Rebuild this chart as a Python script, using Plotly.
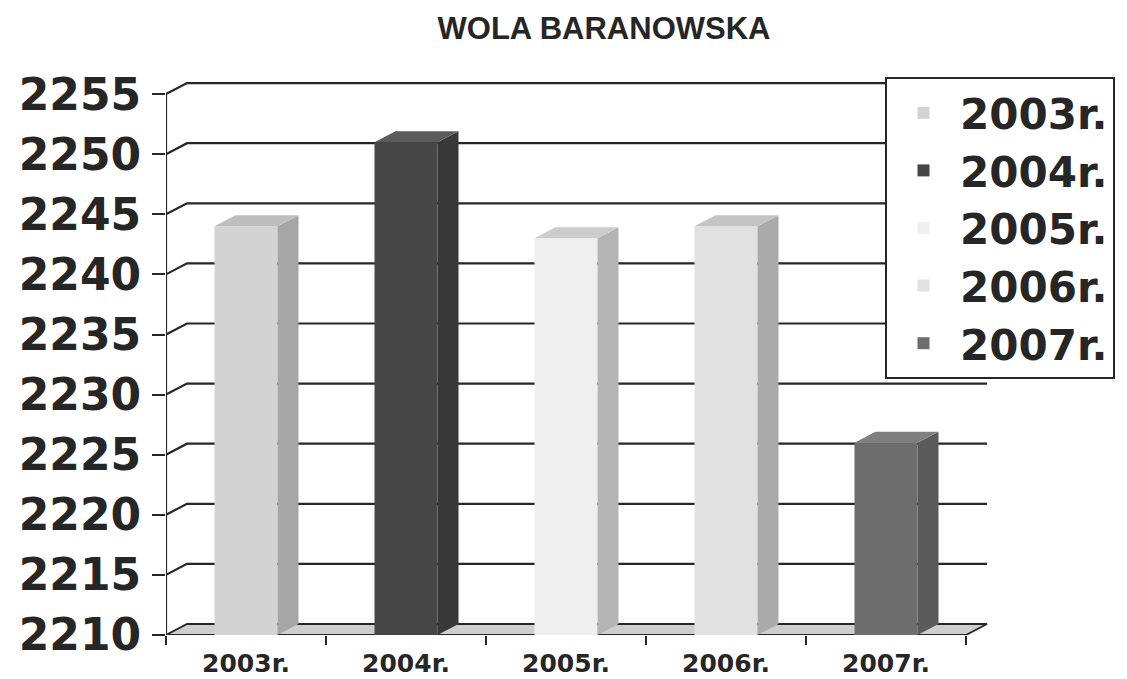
import plotly.graph_objects as go

# ---------------- data ----------------
title_text = "WOLA BARANOWSKA"
years = ["2003r.", "2004r.", "2005r.", "2006r.", "2007r."]
values = [2244, 2251, 2243, 2244, 2226]
y_ticks = [2210, 2215, 2220, 2225, 2230, 2235, 2240, 2245, 2250, 2255]

front_colors = ["#d3d3d3", "#474747", "#efefef", "#e1e1e1", "#6d6d6d"]
side_colors = ["#a6a6a6", "#383838", "#b4b4b4", "#aaaaaa", "#5a5a5a"]
top_colors = ["#bebebe", "#5b5b5b", "#cccccc", "#c4c4c4", "#7f7f7f"]

# ---------------- geometry (pixel layout -> axis units) ----------------
W, H = 1127, 679
PX_PER_X = 160.0           # pixels per category
PX_PER_Y = 12.02           # pixels per value unit
AX_LEFT_PX = 166           # front value axis position
Y_BOTTOM_PX = 635          # value 2210 on the front plane
Y_TOP_PX = 79
X_MIN, X_MAX = -0.5, 4.8
Y0 = y_ticks[0]
y_max = Y0 + (Y_BOTTOM_PX - Y_TOP_PX) / PX_PER_Y
dx = 21 / PX_PER_X         # depth offset, x
dy = 11 / PX_PER_Y         # depth offset, y
bar_w = 63 / PX_PER_X
x_first, x_last = -0.5, len(years) - 0.5

x_dom = [AX_LEFT_PX / W, min(1.0, (AX_LEFT_PX + (X_MAX - X_MIN) * PX_PER_X) / W)]
y_dom = [(H - Y_BOTTOM_PX) / H, (H - Y_TOP_PX) / H]

ink = "#262626"
fig = go.Figure()

# front faces as real bars
for i, (name, v) in enumerate(zip(years, values)):
    fig.add_trace(go.Bar(
        x=[i], y=[v - Y0], base=Y0, width=[bar_w], name=name,
        marker=dict(color=front_colors[i], line=dict(width=0)),
        showlegend=True, hoverinfo="skip",
    ))

# side and top faces for the 3-D look (computed from the same values)
for i, v in enumerate(values):
    xr = i + bar_w / 2
    xl = i - bar_w / 2
    fig.add_trace(go.Scatter(
        x=[xr, xr + dx, xr + dx, xr, xr],
        y=[Y0, Y0 + dy, v + dy, v, Y0],
        fill="toself", fillcolor=side_colors[i], mode="lines",
        line=dict(width=0), showlegend=False, hoverinfo="skip",
    ))
    fig.add_trace(go.Scatter(
        x=[xl, xr, xr + dx, xl + dx, xl],
        y=[v, v, v + dy, v + dy, v],
        fill="toself", fillcolor=top_colors[i], mode="lines",
        line=dict(width=0), showlegend=False, hoverinfo="skip",
    ))

shapes = []
# floor
shapes.append(dict(
    type="path", xref="x", yref="y", layer="below",
    path=f"M {x_first},{Y0} L {x_last},{Y0} L {x_last + dx},{Y0 + dy} L {x_first + dx},{Y0 + dy} Z",
    fillcolor="#cecece", line=dict(color=ink, width=1.8),
))
# back-wall gridlines with the diagonal link to the front axis
for v in y_ticks[1:]:
    shapes.append(dict(
        type="path", xref="x", yref="y", layer="below",
        path=f"M {x_first},{v} L {x_first + dx},{v + dy} L {x_last + dx},{v + dy}",
        line=dict(color=ink, width=2.2),
    ))
# front value axis line
shapes.append(dict(
    type="line", xref="x", yref="y", layer="below",
    x0=x_first, x1=x_first, y0=Y0, y1=y_ticks[-1],
    line=dict(color=ink, width=2.2),
))

fig.update_layout(
    width=W, height=H, autosize=False,
    margin=dict(l=0, r=0, t=0, b=0, autoexpand=False),
    paper_bgcolor="white", plot_bgcolor="rgba(0,0,0,0)",
    barmode="overlay", hovermode=False,
    shapes=shapes,
    title=dict(
        text=title_text, x=604 / W, y=1 - 28 / H,
        xanchor="center", yanchor="middle",
        font=dict(family="Liberation Sans", size=31, color=ink, weight="bold"),
    ),
    xaxis=dict(
        domain=x_dom, range=[X_MIN, X_MAX], showgrid=False, zeroline=False, showline=False,
        automargin=False,
        tickmode="array", tickvals=list(range(len(years))), ticktext=years,
        ticks="", ticklabelstandoff=11,
        tickfont=dict(family="DejaVu Sans", size=25, color=ink, weight="bold"),
        minor=dict(tickmode="array", tickvals=[k - 0.5 for k in range(len(years) + 1)],
                   ticks="outside", ticklen=9, tickwidth=2, tickcolor=ink),
        fixedrange=True,
    ),
    yaxis=dict(
        domain=y_dom, range=[Y0, y_max], showgrid=False, zeroline=False, showline=False,
        automargin=False,
        tickmode="array", tickvals=y_ticks, ticks="outside", ticklen=13, tickwidth=2,
        tickcolor=ink, ticklabelstandoff=2,
        tickfont=dict(family="DejaVu Sans", size=44, color=ink, weight="bold"),
        fixedrange=True,
    ),
    legend=dict(
        x=885 / W, y=1 - 77 / H, xanchor="left", yanchor="top",
        bgcolor="white", bordercolor=ink, borderwidth=2,
        font=dict(family="DejaVu Sans", size=42, color=ink, weight="bold"),
        itemwidth=63, traceorder="normal",
    ),
)

fig.write_html("out.html", config={"displayModeBar": False, "staticPlot": True},
               post_script="document.body.style.margin = '0px';")
